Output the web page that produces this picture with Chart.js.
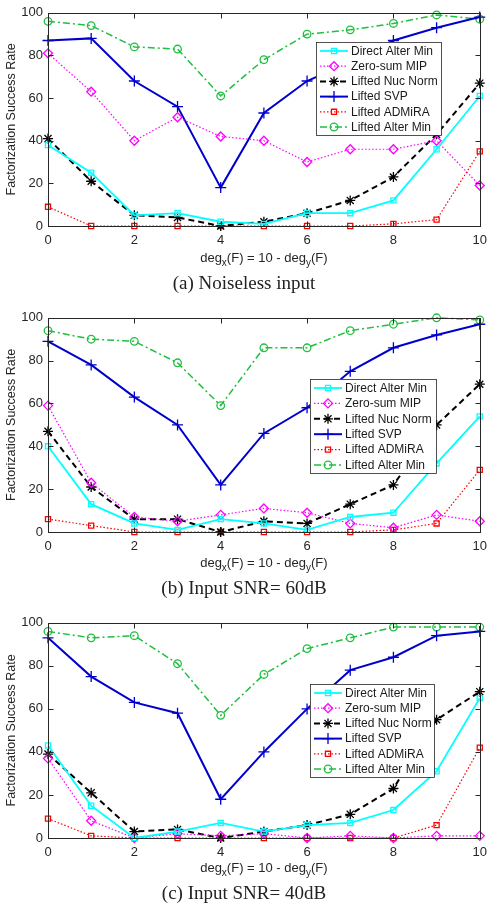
<!DOCTYPE html>
<html>
<head>
<meta charset="utf-8">
<script src="https://cdn.jsdelivr.net/npm/chart.js"></script>
<style>
    body {
        margin: 0;
        padding: 0;
        background: #fff;
    }
    canvas {
        display: block;
    }
</style>
</head>
<body>
<canvas id="chartA" width="494" height="305"></canvas>
<canvas id="chartB" width="494" height="305"></canvas>
<canvas id="chartC" width="494" height="305"></canvas>
<script>
// x values: deg_x(F)
const degX = [0, 1, 2, 3, 4, 5, 6, 7, 8, 9, 10];
const methodNames = ['Direct Alter Min', 'Zero-sum MIP', 'Lifted Nuc Norm', 'Lifted SVP', 'Lifted ADMiRA', 'Lifted Alter Min'];
const captions = ['(a) Noiseless input', '(b) Input SNR= 60dB', '(c) Input SNR= 40dB'];

// (a) Noiseless input
const noiselessDirectAlterMin = [38, 25, 5, 6, 2, 1, 6, 6, 12, 36, 61];
const noiselessZeroSumMip     = [81, 63, 40, 51, 42, 40, 30, 36, 36, 40, 19];
const noiselessLiftedNucNorm  = [41, 21, 5, 4, 0, 2, 6, 12, 23, 43, 67];
const noiselessLiftedSvp      = [87, 88, 68, 56, 18, 53, 68, 77, 87, 93, 98];
const noiselessLiftedAdmira   = [9, 0, 0, 0, 0, 0, 0, 0, 1, 3, 35];
const noiselessLiftedAlterMin = [96, 94, 84, 83, 61, 78, 90, 92, 95, 99, 97];

// (b) Input SNR = 60dB
const snr60DirectAlterMin = [40, 13, 4, 1, 6, 4, 1, 7, 9, 32, 54];
const snr60ZeroSumMip     = [59, 23, 7, 5, 8, 11, 9, 4, 2, 8, 5];
const snr60LiftedNucNorm  = [47, 21, 6, 6, 0, 5, 4, 13, 22, 50, 69];
const snr60LiftedSvp      = [89, 78, 63, 50, 22, 46, 58, 75, 86, 92, 97];
const snr60LiftedAdmira   = [6, 3, 0, 0, 0, 0, 0, 0, 1, 4, 29];
const snr60LiftedAlterMin = [94, 90, 89, 79, 59, 86, 86, 94, 97, 100, 99];

// (c) Input SNR = 40dB
const snr40DirectAlterMin = [43, 15, 0, 3, 7, 3, 6, 7, 13, 31, 65];
const snr40ZeroSumMip     = [37, 8, 0, 2, 1, 2, 0, 1, 0, 1, 1];
const snr40LiftedNucNorm  = [39, 21, 3, 4, 0, 3, 6, 11, 23, 55, 68];
const snr40LiftedSvp      = [93, 75, 63, 58, 18, 40, 60, 78, 84, 94, 96];
const snr40LiftedAdmira   = [9, 1, 0, 0, 0, 0, 0, 0, 0, 6, 42];
const snr40LiftedAlterMin = [96, 93, 94, 81, 57, 76, 88, 93, 98, 98, 98];

// line / marker look for each method (same order as methodNames)
const methodStyles = [
    { color: '#00ffff', width: 1.8, dash: [],           point: 'rect',    radius: 3.6 },
    { color: '#ff00ff', width: 1.2, dash: [1.5, 2],     point: 'rectRot', radius: 4.5 },
    { color: '#000000', width: 2,   dash: [6, 4],       point: 'star',    radius: 5 },
    { color: '#0000cc', width: 2,   dash: [],           point: 'cross',   radius: 5.5 },
    { color: '#ff0000', width: 1.2, dash: [1.5, 2],     point: 'rect',    radius: 3.6 },
    { color: '#1fbf3f', width: 1.5, dash: [7, 3, 2, 3], point: 'circle',  radius: 3.8 }
];

const frameColor = '#262626';
const sansFont = "'Liberation Sans', Arial, sans-serif";
const serifFont = "'Liberation Serif', 'Times New Roman', serif";

// Draws the MATLAB-style box, inward ticks, legend, x title and caption
const matlabPlugin = {
    id: 'matlabLook',
    afterDatasetsDraw(chart, args, opts) {
        const ctx = chart.ctx;
        const a = chart.chartArea;
        const xs = chart.scales.x;
        const ys = chart.scales.y;
        ctx.save();

        // axes box
        ctx.strokeStyle = frameColor;
        ctx.lineWidth = 1;
        ctx.setLineDash([]);
        const l = Math.round(a.left) + 0.5, r = Math.round(a.right) + 0.5;
        const t = Math.round(a.top) + 0.5, b = Math.round(a.bottom) + 0.5;
        ctx.strokeRect(l, t, r - l, b - t);

        // inward tick marks
        const tl = 5;
        ctx.beginPath();
        xs.ticks.forEach(tk => {
            const px = Math.round(xs.getPixelForValue(tk.value)) + 0.5;
            ctx.moveTo(px, b); ctx.lineTo(px, b - tl);
            ctx.moveTo(px, t); ctx.lineTo(px, t + tl);
        });
        ys.ticks.forEach(tk => {
            const py = Math.round(ys.getPixelForValue(tk.value)) + 0.5;
            ctx.moveTo(l, py); ctx.lineTo(l + tl, py);
            ctx.moveTo(r, py); ctx.lineTo(r - tl, py);
        });
        ctx.stroke();

        drawLegend(chart, opts.legendBox);
        drawXTitle(ctx, (a.left + a.right) / 2, 262);

        // caption under the panel
        ctx.fillStyle = '#222';
        ctx.font = '19px ' + serifFont;
        ctx.textAlign = 'center';
        ctx.textBaseline = 'middle';
        ctx.fillText(opts.caption, 244, opts.captionY);

        ctx.restore();
    }
};

function drawLegend(chart, box) {
    const ctx = chart.ctx;
    ctx.save();
    ctx.fillStyle = '#fff';
    ctx.fillRect(box.x, box.y, box.w, box.h);
    ctx.strokeStyle = frameColor;
    ctx.lineWidth = 0.8;
    ctx.strokeRect(box.x + 0.5, box.y + 0.5, box.w, box.h);

    const n = chart.data.datasets.length;
    const rowH = (box.h - 17) / (n - 1);
    chart.data.datasets.forEach((ds, i) => {
        const cy = box.y + 9 + i * rowH;
        ctx.save();
        ctx.strokeStyle = ds.borderColor;
        ctx.lineWidth = ds.borderWidth;
        ctx.setLineDash(ds.borderDash);
        ctx.beginPath();
        ctx.moveTo(box.x + 4, cy);
        ctx.lineTo(box.x + 32, cy);
        ctx.stroke();
        ctx.setLineDash([]);
        ctx.lineWidth = ds.pointBorderWidth;
        ctx.fillStyle = 'rgba(0,0,0,0)';
        Chart.helpers.drawPoint(ctx, {
            pointStyle: ds.pointStyle,
            radius: ds.pointRadius,
            rotation: 0,
            borderWidth: ds.pointBorderWidth
        }, box.x + 18, cy);
        ctx.restore();

        ctx.fillStyle = '#1a1a1a';
        ctx.font = '12px ' + sansFont;
        ctx.textAlign = 'left';
        ctx.textBaseline = 'middle';
        ctx.fillText(ds.label, box.x + 35, cy + 0.5);
    });
    ctx.restore();
}

// "deg_x(F) = 10 - deg_y(F)" with real subscripts
function drawXTitle(ctx, cx, baseY) {
    const parts = [['deg', false], ['x', true], ['(F) = 10 - deg', false], ['y', true], ['(F)', false]];
    const mainFont = '13px ' + sansFont;
    const subFont = '10px ' + sansFont;
    let total = 0;
    parts.forEach(p => {
        ctx.font = p[1] ? subFont : mainFont;
        total += ctx.measureText(p[0]).width;
    });
    let x = cx - total / 2;
    ctx.fillStyle = frameColor;
    ctx.textAlign = 'left';
    ctx.textBaseline = 'alphabetic';
    parts.forEach(p => {
        ctx.font = p[1] ? subFont : mainFont;
        ctx.fillText(p[0], x, p[1] ? baseY + 4 : baseY);
        x += ctx.measureText(p[0]).width;
    });
}

function buildDatasets(seriesList) {
    return seriesList.map((values, i) => {
        const st = methodStyles[i];
        return {
            label: methodNames[i],
            data: degX.map((d, k) => ({ x: d, y: values[k] })),
            borderColor: st.color,
            borderWidth: st.width,
            borderDash: st.dash,
            pointStyle: st.point,
            pointRadius: st.radius,
            pointBorderColor: st.color,
            pointBackgroundColor: 'rgba(0,0,0,0)',
            pointBorderWidth: 1.3,
            tension: 0,
            fill: false,
            clip: false
        };
    });
}

function makePanel(canvasId, seriesList, caption, legendBox, plotTop, plotBottom) {
    const ctx = document.getElementById(canvasId).getContext('2d');
    new Chart(ctx, {
        type: 'line',
        data: { datasets: buildDatasets(seriesList) },
        plugins: [matlabPlugin],
        options: {
            responsive: false,
            animation: false,
            devicePixelRatio: 1,
            layout: { padding: { top: plotTop, right: 14, bottom: 0, left: 0 } },
            plugins: {
                legend: { display: false },
                tooltip: { enabled: false },
                matlabLook: { legendBox: legendBox, caption: caption, captionY: 284 }
            },
            scales: {
                x: {
                    type: 'linear',
                    min: 0,
                    max: 10,
                    ticks: {
                        stepSize: 2,
                        maxRotation: 0,
                        padding: 7,
                        color: frameColor,
                        font: { family: sansFont, size: 13 }
                    },
                    grid: { display: false, drawTicks: false },
                    border: { display: false },
                    afterFit(scale) { scale.height = 305 - plotBottom; }
                },
                y: {
                    min: 0,
                    max: 100,
                    ticks: {
                        stepSize: 20,
                        padding: 5,
                        color: frameColor,
                        font: { family: sansFont, size: 13 }
                    },
                    title: {
                        display: true,
                        text: 'Factorization Success Rate',
                        color: frameColor,
                        font: { family: sansFont, size: 12.5 },
                        padding: { top: 4, bottom: 0 }
                    },
                    grid: { display: false, drawTicks: false },
                    border: { display: false },
                    afterFit(scale) { scale.width = 48; }
                }
            }
        }
    });
}

makePanel('chartA',
    [noiselessDirectAlterMin, noiselessZeroSumMip, noiselessLiftedNucNorm, noiselessLiftedSvp, noiselessLiftedAdmira, noiselessLiftedAlterMin],
    captions[0], { x: 316, y: 42, w: 125, h: 93 }, 9, 226);

makePanel('chartB',
    [snr60DirectAlterMin, snr60ZeroSumMip, snr60LiftedNucNorm, snr60LiftedSvp, snr60LiftedAdmira, snr60LiftedAlterMin],
    captions[1], { x: 310, y: 74, w: 126, h: 94 }, 9, 227);

makePanel('chartC',
    [snr40DirectAlterMin, snr40ZeroSumMip, snr40LiftedNucNorm, snr40LiftedSvp, snr40LiftedAdmira, snr40LiftedAlterMin],
    captions[2], { x: 310, y: 74, w: 124, h: 93 }, 11, 228);
</script>
</body>
</html>
